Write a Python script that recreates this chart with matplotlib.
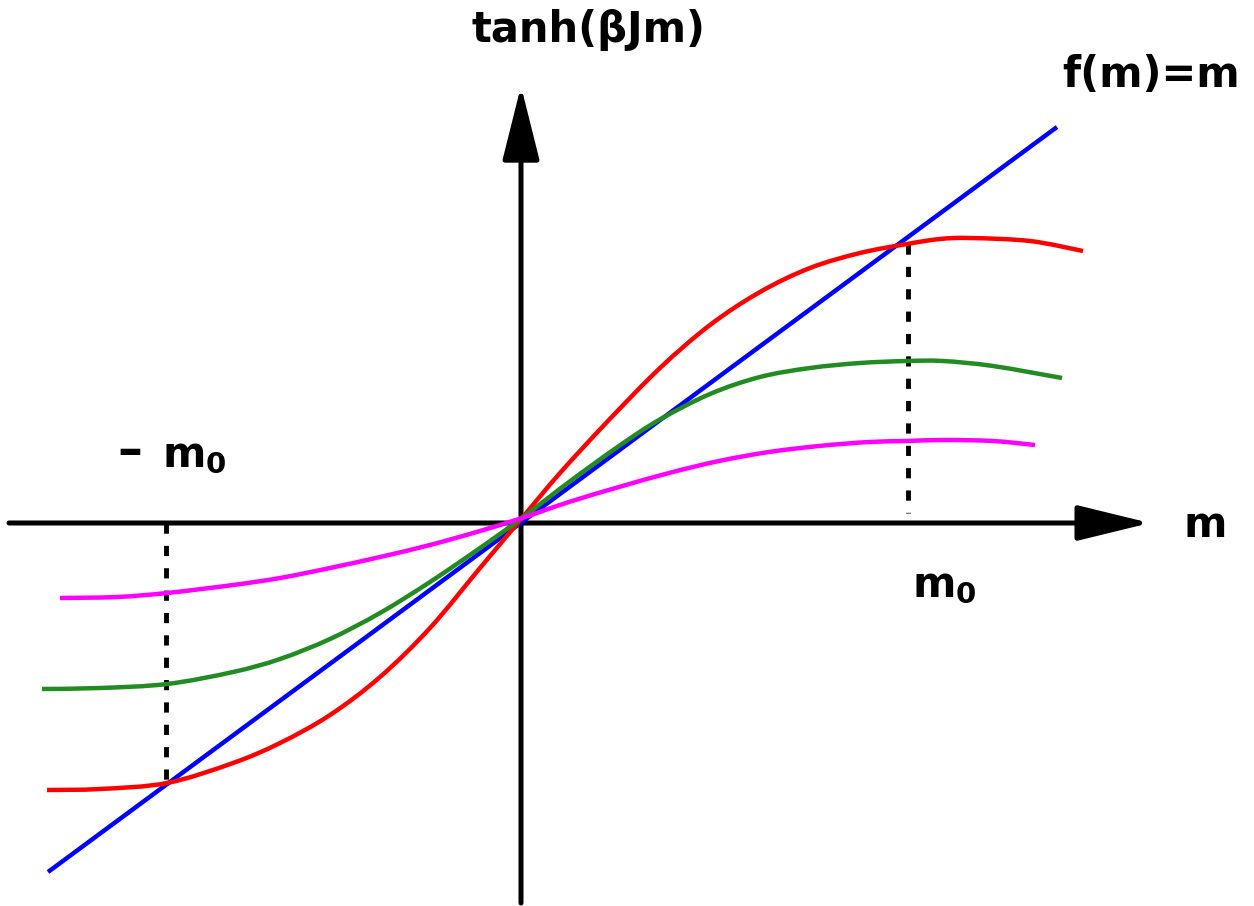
import numpy as np
import matplotlib
matplotlib.use("Agg")
import matplotlib.pyplot as plt
from matplotlib.patches import ArrowStyle, PathPatch
from matplotlib.path import Path

# curves (origin where the curves cross)
red_x = [-4.75, -4.22, -3.55, -2.89, -2.42, -1.92, -1.42, -0.92, -0.42, 0.0,
         0.38, 0.85, 1.38, 1.88, 2.38, 2.88, 3.38, 3.85, 4.18, 4.48, 5.08, 5.61]
red_y = [-2.72, -2.71, -2.65, -2.45, -2.25, -1.97, -1.59, -1.10, -0.50, 0.0,
         0.45, 0.96, 1.50, 1.93, 2.26, 2.50, 2.65, 2.74, 2.79, 2.80, 2.77, 2.67]

green_x = [-4.80, -4.22, -3.55, -2.89, -2.42, -1.92, -1.42, -0.92, -0.42, 0.0,
           0.47, 0.97, 1.37, 1.88, 2.38, 2.88, 3.38, 3.85, 4.21, 4.71, 5.40]
green_y = [-1.71, -1.70, -1.66, -1.54, -1.41, -1.21, -0.95, -0.64, -0.30, 0.0,
           0.36, 0.72, 0.98, 1.24, 1.41, 1.50, 1.55, 1.57, 1.57, 1.52, 1.40]

magenta_x = [-4.62, -4.05, -3.55, -2.89, -2.42, -1.92, -1.42, -0.92, -0.42, 0.0,
             0.47, 0.97, 1.47, 1.97, 2.47, 2.97, 3.47, 3.85, 4.21, 4.71, 5.13]
magenta_y = [-0.80, -0.79, -0.75, -0.67, -0.60, -0.50, -0.39, -0.27, -0.13, 0.0,
             0.16, 0.31, 0.45, 0.57, 0.66, 0.72, 0.76, 0.77, 0.78, 0.77, 0.73]

blue_x = [-4.74, 5.35]
blue_y = [-3.54, 3.91]

m0_right = 3.86
m0_left = -3.56


def smooth_path(xs, ys):
    # bezier path through the read points (catmull-rom control points)
    p = np.column_stack([xs, ys])
    verts = [p[0]]
    codes = [Path.MOVETO]
    for i in range(len(p) - 1):
        p0 = p[i - 1] if i > 0 else p[i]
        p3 = p[i + 2] if i + 2 < len(p) else p[i + 1]
        c1 = p[i] + (p[i + 1] - p0) / 6
        c2 = p[i + 1] - (p3 - p[i]) / 6
        verts += [c1, c2, p[i + 1]]
        codes += [Path.CURVE4] * 3
    return Path(verts, codes)


fig = plt.figure(figsize=(12.54, 9.06), dpi=100)
ax = fig.add_axes([0, 0, 1, 1])
ax.set_xlim(-5.22, 7.32)
ax.set_ylim(-3.88, 5.18)
ax.axis("off")

# axes with arrow heads
y_axis_level = -0.05
ax.annotate("", xy=(6.28, y_axis_level), xytext=(-5.13, y_axis_level),
            arrowprops=dict(arrowstyle=ArrowStyle("-|>", head_length=45, head_width=11),
                            mutation_scale=1, lw=3.6, color="black",
                            shrinkA=0, shrinkB=0), zorder=2)
ax.annotate("", xy=(-0.01, 4.32), xytext=(-0.01, -3.85),
            arrowprops=dict(arrowstyle=ArrowStyle("-|>", head_length=46, head_width=11.5),
                            mutation_scale=1, lw=3.6, color="black",
                            shrinkA=0, shrinkB=0), zorder=2)

# dashed drops to the axis
ax.plot([m0_right, m0_right], [np.interp(m0_right, red_x, red_y), y_axis_level + 0.1],
        color="black", lw=3.5, dashes=(2.1, 2.5), solid_capstyle="butt", zorder=3)
ax.plot([m0_left, m0_left], [y_axis_level, np.interp(m0_left, red_x, red_y)],
        color="black", lw=3.5, dashes=(2.1, 2.5), solid_capstyle="butt", zorder=3)

lw = 3.2
ax.plot(blue_x, blue_y, color="#0000ff", lw=lw, solid_capstyle="butt", zorder=4)
for xs, ys, c in [(red_x, red_y, "#ff0000"), (green_x, green_y, "#228b22"),
                  (magenta_x, magenta_y, "#ff00ff")]:
    ax.add_patch(PathPatch(smooth_path(xs, ys), facecolor="none", edgecolor=c,
                           lw=lw, capstyle="butt", zorder=4))

font = dict(family="DejaVu Sans", weight="bold", size=30, color="black")
ax.text(0.67, 4.76, "tanh(βJm)", ha="center", va="baseline", **font)
ax.text(6.29, 4.31, "f(m)=m", ha="center", va="baseline", **font)
ax.text(6.83, -0.19, "m", ha="center", va="baseline", **font)
ax.text(3.90, -0.79, r"$\mathbf{m_0}$", ha="left", va="baseline", **font)
ax.text(-3.92, 0.66, "–", ha="center", va="center", family="DejaVu Sans",
        weight="bold", size=36, color="black")
ax.text(-3.60, 0.51, r"$\mathbf{m_0}$", ha="left", va="baseline", **font)

fig.savefig("out.png", dpi=100)
